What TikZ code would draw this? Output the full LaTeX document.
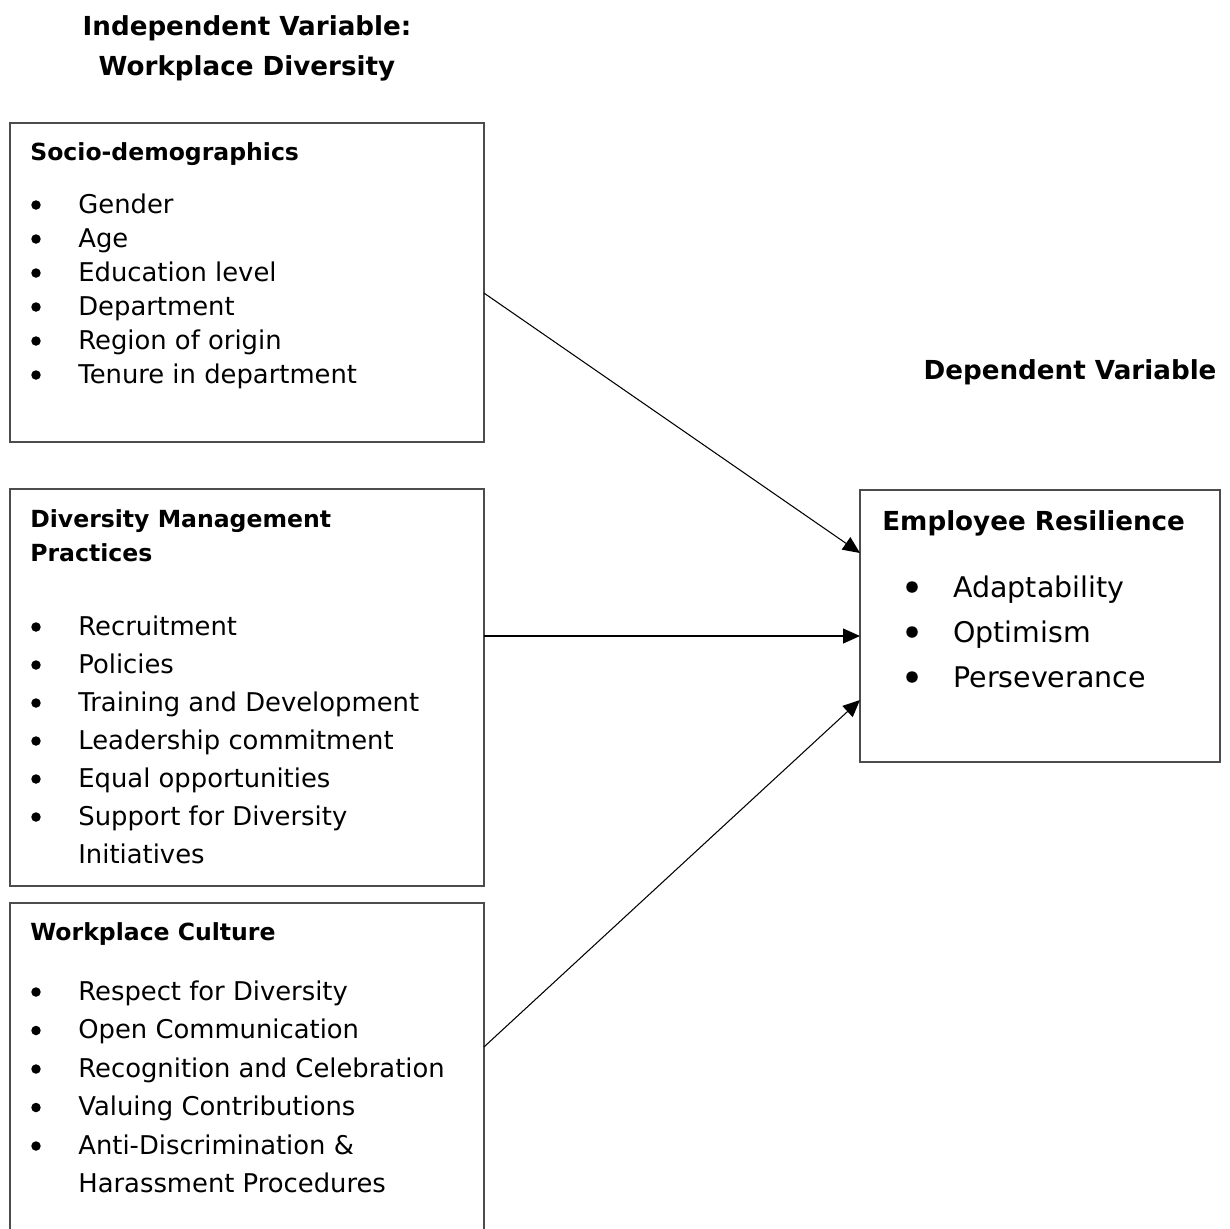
\documentclass[tikz,border=0pt]{standalone}
\usepackage{fontspec}
\setmainfont{DejaVu Sans}
\usetikzlibrary{arrows.meta,calc}
\begin{document}
\begin{tikzpicture}[x=0.02cm,y=-0.02cm]
  \tikzset{box/.style={draw=black!70, line width=1pt, inner sep=0pt, outer sep=0pt, anchor=north west},
    title/.style={font=\bfseries\fontsize{14.9}{18}\selectfont, inner sep=0pt, anchor=base},
    head/.style={font=\bfseries\fontsize{13.4}{16}\selectfont, inner sep=0pt, anchor=base west},
    item/.style={font=\fontsize{14.7}{17}\selectfont, inner sep=0pt, anchor=base west},
    bul/.style={circle, fill=black, inner sep=0pt, minimum size=0.19cm},
    link/.style={line width=0.6pt, -{Triangle[length=0.34cm,width=0.3cm]}}}
  \useasboundingbox (0,0) rectangle (1230,1228);
  \clip (0,0) rectangle (1230,1228);
  % titles
  \node[title] (iv1) at (247,35) {Independent Variable:};
  \node[title] (iv2) at (247,75) {Workplace Diversity};
  \node[title] (dv) at (1070,379) {Dependent Variable};
  % boxes
  \node[box, minimum width=9.48cm, minimum height=6.38cm] (socio) at (10,123) {};
  \node[box, minimum width=9.48cm, minimum height=7.94cm] (dmp) at (10,489) {};
  \node[box, minimum width=9.48cm, minimum height=7cm] (culture) at (10,903) {};
  \node[box, minimum width=7.2cm, minimum height=5.44cm] (res) at (860,490) {};
  % socio-demographics
  \node[head] (sh) at (30,160) {Socio-demographics};
  \foreach \t [count=\i from 0] in {Gender, Age, Education level, Department, Region of origin, Tenure in department}{
    \node[bul] (sb\i) at (36,{205+34*\i}) {};
    \node[item] (si\i) at (78,{213+34*\i}) {\t};
  }
  % diversity management
  \node[head] (dh1) at (30,527) {Diversity Management};
  \node[head] (dh2) at (30,561) {Practices};
  \foreach \t [count=\i from 0] in {Recruitment, Policies, Training and Development, Leadership commitment, Equal opportunities, Support for Diversity}{
    \node[bul] (db\i) at (36,{627+38*\i}) {};
    \node[item] (di\i) at (78,{635+38*\i}) {\t};
  }
  \node[item] (di6) at (78,863) {Initiatives};
  % workplace culture
  \node[head] (ch) at (30,940) {Workplace Culture};
  \foreach \t [count=\i from 0] in {Respect for Diversity, Open Communication, Recognition and Celebration, Valuing Contributions, Anti-Discrimination \&}{
    \node[bul] (cb\i) at (36,{992+38.5*\i}) {};
    \node[item] (ci\i) at (78,{1000+38.5*\i}) {\t};
  }
  \node[item] (ci5) at (78,1192.5) {Harassment Procedures};
  % employee resilience
  \node[title, anchor=base west] (rh) at (882,530) {Employee Resilience};
  \foreach \t [count=\i from 0] in {Adaptability, Optimism, Perseverance}{
    \node[bul, minimum size=0.23cm] (rb\i) at (912,{587+45*\i}) {};
    \node[item, font=\fontsize{16.2}{19}\selectfont] (ri\i) at (953,{597+45*\i}) {\t};
  }
  % arrows
  \draw[link] ($(socio.north east)+(0,170)$) -- ($(res.north west)+(0,63)$);
  \draw[link] ($(dmp.north east)+(0,147)$) -- ($(res.north west)+(0,146)$);
  \draw[link] ($(culture.north east)+(0,144)$) -- ($(res.north west)+(0,210)$);
\end{tikzpicture}
\end{document}
